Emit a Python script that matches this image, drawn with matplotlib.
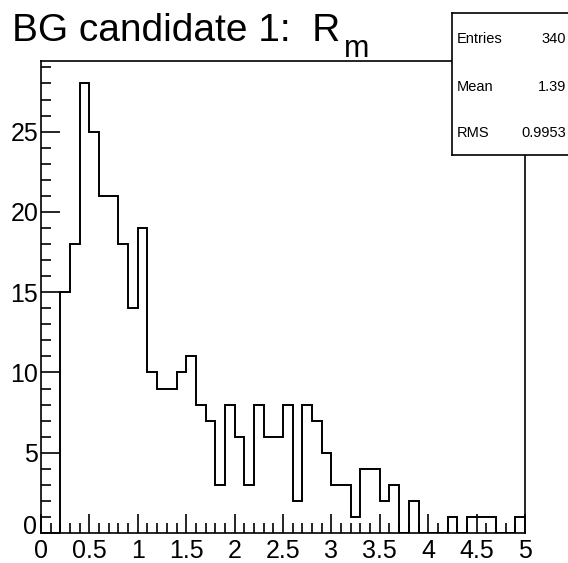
import numpy as np
import matplotlib.pyplot as plt
from matplotlib.ticker import MultipleLocator

plt.rcParams['font.family'] = ['Liberation Sans', 'DejaVu Sans']

# 50 bins of width 0.1 over [0, 5]
bin_edges = np.linspace(0.0, 5.0, 51)
counts = [0, 0, 15, 18, 28, 25, 21, 21, 18, 14,
          19, 10, 9, 9, 10, 11, 8, 7, 3, 8,
          6, 3, 8, 6, 6, 8, 2, 8, 7, 5,
          3, 3, 1, 4, 4, 2, 3, 0, 2, 0,
          0, 0, 1, 0, 1, 1, 1, 0, 0, 1]
y_ticks = [0, 5, 10, 15, 20, 25]
x_ticks = [0, 0.5, 1, 1.5, 2, 2.5, 3, 3.5, 4, 4.5, 5]
x_tick_labels = ['0', '0.5', '1', '1.5', '2', '2.5', '3', '3.5', '4', '4.5', '5']
stat_names = ['Entries', 'Mean', 'RMS']
stat_values = ['340', '1.39', '0.9953']

W, H = 568, 563
fig = plt.figure(figsize=(W / 100, H / 100), dpi=100)
ax = fig.add_axes([41 / W, 1 - 533 / H, (525 - 41) / W, (533 - 61) / H])

ax.stairs(counts, bin_edges, color='black', linewidth=1.4, baseline=0)
ax.set_xlim(0, 5)
ax.set_ylim(0, 1.05 * max(counts))

ax.xaxis.set_minor_locator(MultipleLocator(0.1))
ax.yaxis.set_minor_locator(MultipleLocator(1))
ax.tick_params(which='both', direction='in', top=False, right=False, width=1.2, labelsize=18)
ax.tick_params(which='major', length=14)
ax.tick_params(axis='x', which='major', pad=4)
ax.tick_params(axis='y', which='major', pad=2)
ax.tick_params(which='minor', length=7)
ax.set_xticks(x_ticks)
ax.set_xticklabels(x_tick_labels)
ax.set_yticks(y_ticks)
# the y "0" is drawn a little higher so it clears the x "0"
ax.set_yticklabels([''] + [str(v) for v in y_ticks[1:]])
ax.annotate('0', xy=(0, 0), xycoords='axes fraction', xytext=(-3, 4),
            textcoords='offset points', ha='right', va='center', fontsize=18)
for s in ax.spines.values():
    s.set_linewidth(1.2)

# title with subscript m placed right after the R
title = fig.text(12 / W, 1 - 41 / H, 'BG candidate 1:  R', fontsize=28, va='baseline', ha='left')
fig.canvas.draw()
bb = title.get_window_extent()
fig.text((bb.x1 + 4) / W, 1 - 57 / H, 'm', fontsize=22, va='baseline', ha='left')

# stats box
bx0, by0, bx1, by1 = 452, 13, 570, 155
box = fig.add_axes([bx0 / W, 1 - by1 / H, (bx1 - bx0) / W, (by1 - by0) / H])
box.set_xticks([])
box.set_yticks([])
for s in box.spines.values():
    s.set_linewidth(1.2)
rows_y = [0.82, 0.48, 0.155]
for name, val, yy in zip(stat_names, stat_values, rows_y):
    box.text(0.04, yy, name, fontsize=10.5, va='center', ha='left', transform=box.transAxes)
    box.text(0.965, yy, val, fontsize=10.5, va='center', ha='right', transform=box.transAxes)

fig.savefig('out.png', dpi=100)
